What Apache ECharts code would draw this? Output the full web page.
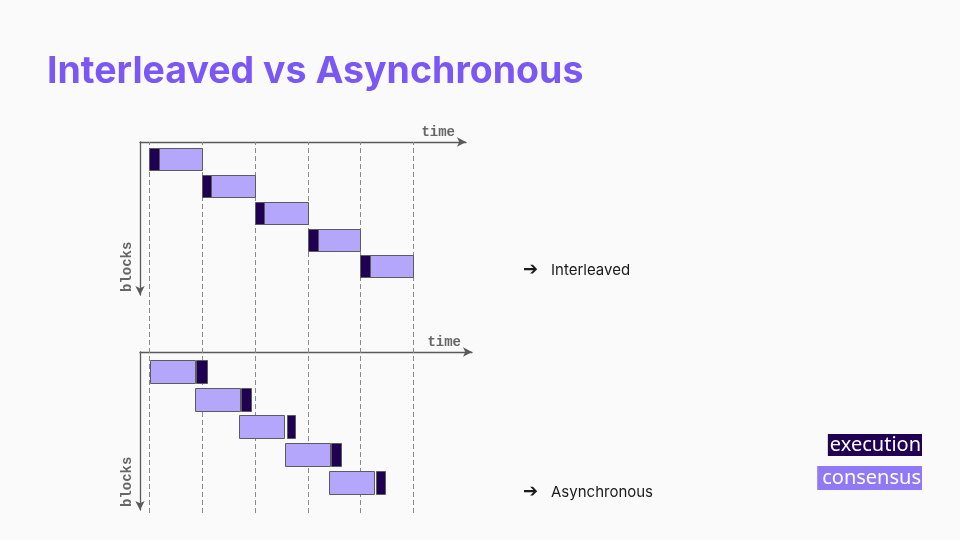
<!DOCTYPE html>
<html>
<head>
<meta charset="utf-8">
<script src="https://cdn.jsdelivr.net/npm/echarts@6/dist/echarts.min.js"></script>
<style>
  html, body { margin: 0; padding: 0; background: #fafafa; }
  #chart { width: 960px; height: 540px; }
</style>
</head>
<body>
<div id="chart"></div>
<script>
// ---- data ----
const timeTicks = [0, 1, 2, 3, 4, 5];
const blockRows = [1, 2, 3, 4, 5];

const interleavedExecStart = [0, 1, 2, 3, 4];
const interleavedExecEnd   = [0.19, 1.17, 2.17, 3.19, 4.19];
const interleavedConsStart = [0.19, 1.17, 2.17, 3.19, 4.19];
const interleavedConsEnd   = [1, 2, 3, 4, 5];

const asyncConsStart = [0.01, 0.87, 1.70, 2.58, 3.41];
const asyncConsEnd   = [0.86, 1.71, 2.55, 3.42, 4.25];
const asyncExecStart = [0.89, 1.74, 2.60, 3.45, 4.30];
const asyncExecEnd   = [1.09, 1.93, 2.77, 3.64, 4.47];

const seriesNames = ['execution', 'consensus'];
const panelLabels = ['Interleaved', 'Asynchronous'];
const titleText = 'Interleaved vs Asynchronous';

// ---- styling / layout ----
const EXEC_COLOR = '#200052';
const CONS_COLOR = '#b3a6fb';
const CONS_LEGEND = '#8f79f6';
const BAR_H = 0.82;
const MONO = "'Liberation Mono', 'DejaVu Sans Mono', monospace";

function zip(s, e) { return s.map((v, i) => [v, e[i], blockRows[i]]); }

function barRender(params, api) {
  const r = api.value(2);
  const p0 = api.coord([api.value(0), r]);
  const p1 = api.coord([api.value(1), r]);
  const h = api.size([0, BAR_H])[1];
  const x0 = Math.round(p0[0]) + 0.5, x1 = Math.round(p1[0]) + 0.5;
  const y0 = Math.round(p0[1] - h / 2) + 0.5;
  return {
    type: 'rect',
    shape: { x: x0, y: y0, width: x1 - x0, height: Math.round(h) },
    style: { fill: api.visual('color'), stroke: '#5c5c5c', lineWidth: 1 }
  };
}

function dashRender(params, api) {
  const a = api.coord([api.value(0), 0]);
  const b = api.coord([api.value(0), 1]);
  const x = Math.round(a[0]) + 0.5;
  return {
    type: 'line',
    shape: { x1: x, y1: a[1], x2: x, y2: b[1] },
    style: { stroke: '#8a8a8a', lineWidth: 1, lineDash: [5, 3] }
  };
}

const axisLineStyle = { color: '#5a5a5a', width: 1.3 };

function timeAxis(gridIndex, max) {
  return {
    type: 'value', gridIndex, position: 'top', min: -0.176, max,
    name: 'time', nameLocation: 'end', nameGap: -11,
    nameTextStyle: { fontFamily: MONO, fontSize: 14, fontWeight: 'bold', color: '#666', align: 'right', verticalAlign: 'bottom', padding: [0, 0, 3, 0] },
    axisLine: { show: true, onZero: false, symbol: ['none', 'arrow'], symbolSize: [7, 9], lineStyle: axisLineStyle },
    axisTick: { show: false }, axisLabel: { show: false }, splitLine: { show: false }
  };
}
function blockAxis(gridIndex, min, max) {
  return {
    type: 'value', gridIndex, inverse: true, min, max,
    name: 'blocks', nameLocation: 'end', nameRotate: 90, nameGap: -3,
    nameTextStyle: { fontFamily: MONO, fontSize: 14, fontWeight: 'bold', color: '#666', align: 'left', verticalAlign: 'bottom', padding: [0, 0, 6, 0] },
    axisLine: { show: true, onZero: false, symbol: ['arrow', 'none'], symbolSize: [7, 9], lineStyle: axisLineStyle },
    axisTick: { show: false }, axisLabel: { show: false }, splitLine: { show: false }
  };
}

const chart = echarts.init(document.getElementById('chart'));
chart.setOption({
  backgroundColor: '#fafafa',
  animation: false,
  textStyle: { fontFamily: 'Inter, sans-serif' },
  grid: [
    { left: 140, top: 142, width: 326, height: 153 },
    { left: 140, top: 352, width: 332, height: 158 },
    { left: 140, top: 142, width: 326, height: 371 }
  ],
  xAxis: [
    timeAxis(0, 6.0),
    timeAxis(1, 6.114),
    { type: 'value', gridIndex: 2, min: -0.176, max: 6.0, show: false }
  ],
  yAxis: [
    blockAxis(0, 0.355, 6.065),
    blockAxis(1, 0.315, 5.98),
    { type: 'value', gridIndex: 2, min: 0, max: 1, show: false }
  ],
  legend: [
    {
      data: [seriesNames[0]], right: 33, top: 429, icon: 'none', itemWidth: 0, itemHeight: 0,
      selectedMode: false,
      textStyle: { fontFamily: "'Noto Sans', sans-serif", fontSize: 20, color: '#ffffff', backgroundColor: EXEC_COLOR, padding: [1, 1, 0, 2], lineHeight: 21 }
    },
    {
      data: [seriesNames[1]], right: 33, top: 461, icon: 'none', itemWidth: 0, itemHeight: 0,
      selectedMode: false,
      textStyle: { fontFamily: "'Noto Sans', sans-serif", fontSize: 20, color: '#ffffff', backgroundColor: CONS_LEGEND, padding: [2, 1, 1, 5], lineHeight: 21 }
    }
  ],
  series: [
    { type: 'custom', xAxisIndex: 2, yAxisIndex: 2, z: 1, silent: true, renderItem: dashRender,
      data: timeTicks.map(t => [t]), encode: { x: 0 } },
    { name: seriesNames[1], type: 'custom', xAxisIndex: 0, yAxisIndex: 0, z: 3, itemStyle: { color: CONS_COLOR },
      renderItem: barRender, encode: { x: [0, 1], y: 2 }, data: zip(interleavedConsStart, interleavedConsEnd) },
    { name: seriesNames[0], type: 'custom', xAxisIndex: 0, yAxisIndex: 0, z: 3, itemStyle: { color: EXEC_COLOR },
      renderItem: barRender, encode: { x: [0, 1], y: 2 }, data: zip(interleavedExecStart, interleavedExecEnd) },
    { name: seriesNames[1], type: 'custom', xAxisIndex: 1, yAxisIndex: 1, z: 3, itemStyle: { color: CONS_COLOR },
      renderItem: barRender, encode: { x: [0, 1], y: 2 }, data: zip(asyncConsStart, asyncConsEnd) },
    { name: seriesNames[0], type: 'custom', xAxisIndex: 1, yAxisIndex: 1, z: 3, itemStyle: { color: EXEC_COLOR },
      renderItem: barRender, encode: { x: [0, 1], y: 2 }, data: zip(asyncExecStart, asyncExecEnd) }
  ],
  graphic: [
    { type: 'text', left: 47, top: 53, style: { text: titleText, fill: '#7b57f6', font: "bold 37.5px Inter, sans-serif" } },
    { type: 'text', x: 523, y: 270, style: { text: '➔', fill: '#1a1a1a', font: "bold 18px 'DejaVu Sans'", verticalAlign: 'middle' } },
    { type: 'text', x: 551, y: 270, style: { text: panelLabels[0], fill: '#1a1a1a', font: "15px Inter, sans-serif", verticalAlign: 'middle' } },
    { type: 'text', x: 523, y: 492, style: { text: '➔', fill: '#1a1a1a', font: "bold 18px 'DejaVu Sans'", verticalAlign: 'middle' } },
    { type: 'text', x: 551, y: 492, style: { text: panelLabels[1], fill: '#1a1a1a', font: "15px Inter, sans-serif", verticalAlign: 'middle' } }
  ]
});
</script>
</body>
</html>
